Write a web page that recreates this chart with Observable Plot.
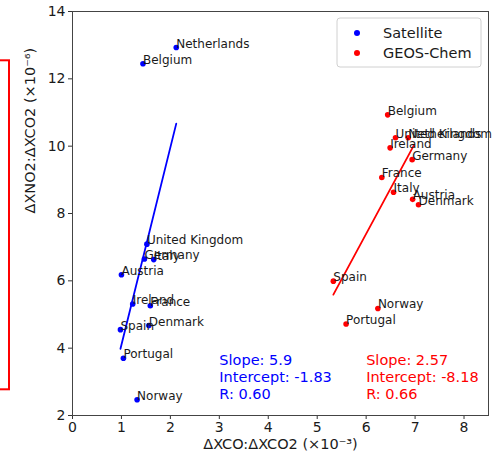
<!DOCTYPE html>
<html><head><meta charset="utf-8">
<script src="https://cdn.jsdelivr.net/npm/d3@7"></script>
<script src="https://cdn.jsdelivr.net/npm/@observablehq/plot@0.6"></script>
<style>
body{margin:0;background:#fff;font-family:"DejaVu Sans",sans-serif}
#chart svg{display:block}
</style>
</head><body><div id="chart"></div>
<script>
// Satellite series
const satCountries = ["Netherlands","Belgium","United Kingdom","Germany","Italy","Austria","Ireland","France","Denmark","Spain","Portugal","Norway"];
const satX = [2.12, 1.44, 1.52, 1.47, 1.66, 1.00, 1.23, 1.59, 1.56, 0.98, 1.04, 1.32];
const satY = [12.93, 12.45, 7.09, 6.65, 6.63, 6.18, 5.31, 5.26, 4.67, 4.55, 3.70, 2.47];
// GEOS-Chem series
const gcCountries = ["Belgium","United Kingdom","Netherlands","Ireland","Germany","France","Italy","Austria","Denmark","Spain","Norway","Portugal"];
const gcX = [6.44, 6.60, 6.86, 6.49, 6.94, 6.32, 6.56, 6.95, 7.07, 5.33, 6.24, 5.59];
const gcY = [10.93, 10.25, 10.25, 9.95, 9.60, 9.07, 8.63, 8.42, 8.26, 5.99, 5.18, 4.72];
// Fit lines (end points)
const satFitX = [0.98, 2.12];
const satFitY = [3.98, 10.67];
const gcFitX = [5.33, 6.98];
const gcFitY = [5.59, 10.04];
// Statistics text
const satStats = ["Slope: 5.9", "Intercept: -1.83", "R: 0.60"];
const gcStats = ["Slope: 2.57", "Intercept: -8.18", "R: 0.66"];
const statsX = [3.0, 6.0];
const statsY = 2.5;
// Series / axes
const seriesNames = ["Satellite", "GEOS-Chem"];
const seriesColors = ["blue", "red"];
const xTicks = [0,1,2,3,4,5,6,7,8];
const yTicks = [2,4,6,8,10,12,14];
const xLabel = "ΔXCO:ΔXCO2 (×10⁻³)";
const yLabel = "ΔXNO2:ΔXCO2 (×10⁻⁶)";

const sat = satCountries.map((c,i)=>({country:c, x:satX[i], y:satY[i]}));
const gc = gcCountries.map((c,i)=>({country:c, x:gcX[i], y:gcY[i]}));
const satFit = satFitX.map((x,i)=>({x, y:satFitY[i]}));
const gcFit = gcFitX.map((x,i)=>({x, y:gcFitY[i]}));
const stats = [
  {x: statsX[0], y: statsY, t: satStats.join("\n"), c: seriesColors[0]},
  {x: statsX[1], y: statsY, t: gcStats.join("\n"), c: seriesColors[1]}
];
const ink = "#1a1a1a";

const plot = Plot.plot({
  width: 500, height: 461,
  marginLeft: 72, marginRight: 12, marginTop: 11, marginBottom: 46,
  style: {fontFamily: "DejaVu Sans", fontSize: "14px", color: ink, background: "white", overflow: "visible"},
  x: {domain: [0, 8.5]},
  y: {domain: [2, 14]},
  marks: [
    Plot.axisX({ticks: xTicks, tickSize: 4, tickPadding: 3, fontSize: 14, label: null, stroke: "#333"}),
    Plot.axisY({ticks: yTicks, tickSize: 4, tickPadding: 3, fontSize: 14, label: null, stroke: "#333"}),
    Plot.frame({stroke: "#444", strokeWidth: 1}),
    Plot.line(satFit, {x: "x", y: "y", stroke: seriesColors[0], strokeWidth: 1.8}),
    Plot.line(gcFit, {x: "x", y: "y", stroke: seriesColors[1], strokeWidth: 1.8}),
    Plot.dot(sat, {x: "x", y: "y", r: 2.8, fill: seriesColors[0], stroke: null}),
    Plot.dot(gc, {x: "x", y: "y", r: 2.8, fill: seriesColors[1], stroke: null}),
    Plot.text(sat, {x: "x", y: "y", text: "country", textAnchor: "start", lineAnchor: "bottom", fontSize: 12, fill: ink}),
    Plot.text(gc, {x: "x", y: "y", text: "country", textAnchor: "start", lineAnchor: "bottom", fontSize: 12, fill: ink}),
    Plot.text(stats, {x: "x", y: "y", text: "t", fill: "c", textAnchor: "start", lineAnchor: "bottom", lineHeight: 1.15, fontSize: 14.5}),
    Plot.text([0], {frameAnchor: "bottom", text: () => xLabel, dy: 33, fontSize: 14.5, fill: ink}),
    Plot.text([0], {frameAnchor: "left", text: () => yLabel, dx: -42, rotate: -90, fontSize: 14.5, fill: ink})
  ]
});

const svg = d3.select(plot);
// legend
const lg = svg.append("g").attr("font-family", "DejaVu Sans").attr("text-anchor", "start");
lg.append("rect").attr("x", 337).attr("y", 18).attr("width", 144).attr("height", 49)
  .attr("rx", 3).attr("fill", "white").attr("fill-opacity", 0.85).attr("stroke", "#d0d0d0");
seriesNames.forEach((n, i) => {
  const cy = 33 + i * 20;
  lg.append("circle").attr("cx", 357).attr("cy", cy).attr("r", 3).attr("fill", seriesColors[i]).attr("stroke", "none");
  lg.append("text").attr("x", 383).attr("y", cy).attr("dy", "0.35em")
    .attr("font-size", 14.5).attr("fill", ink).attr("text-anchor", "start").text(n);
});
// red highlight box edge (partially visible at left)
svg.append("rect").attr("x", -6).attr("y", 60.3).attr("width", 15).attr("height", 329)
  .attr("fill", "none").attr("stroke", "red").attr("stroke-width", 2);

document.getElementById("chart").appendChild(plot);
</script>
</body></html>
